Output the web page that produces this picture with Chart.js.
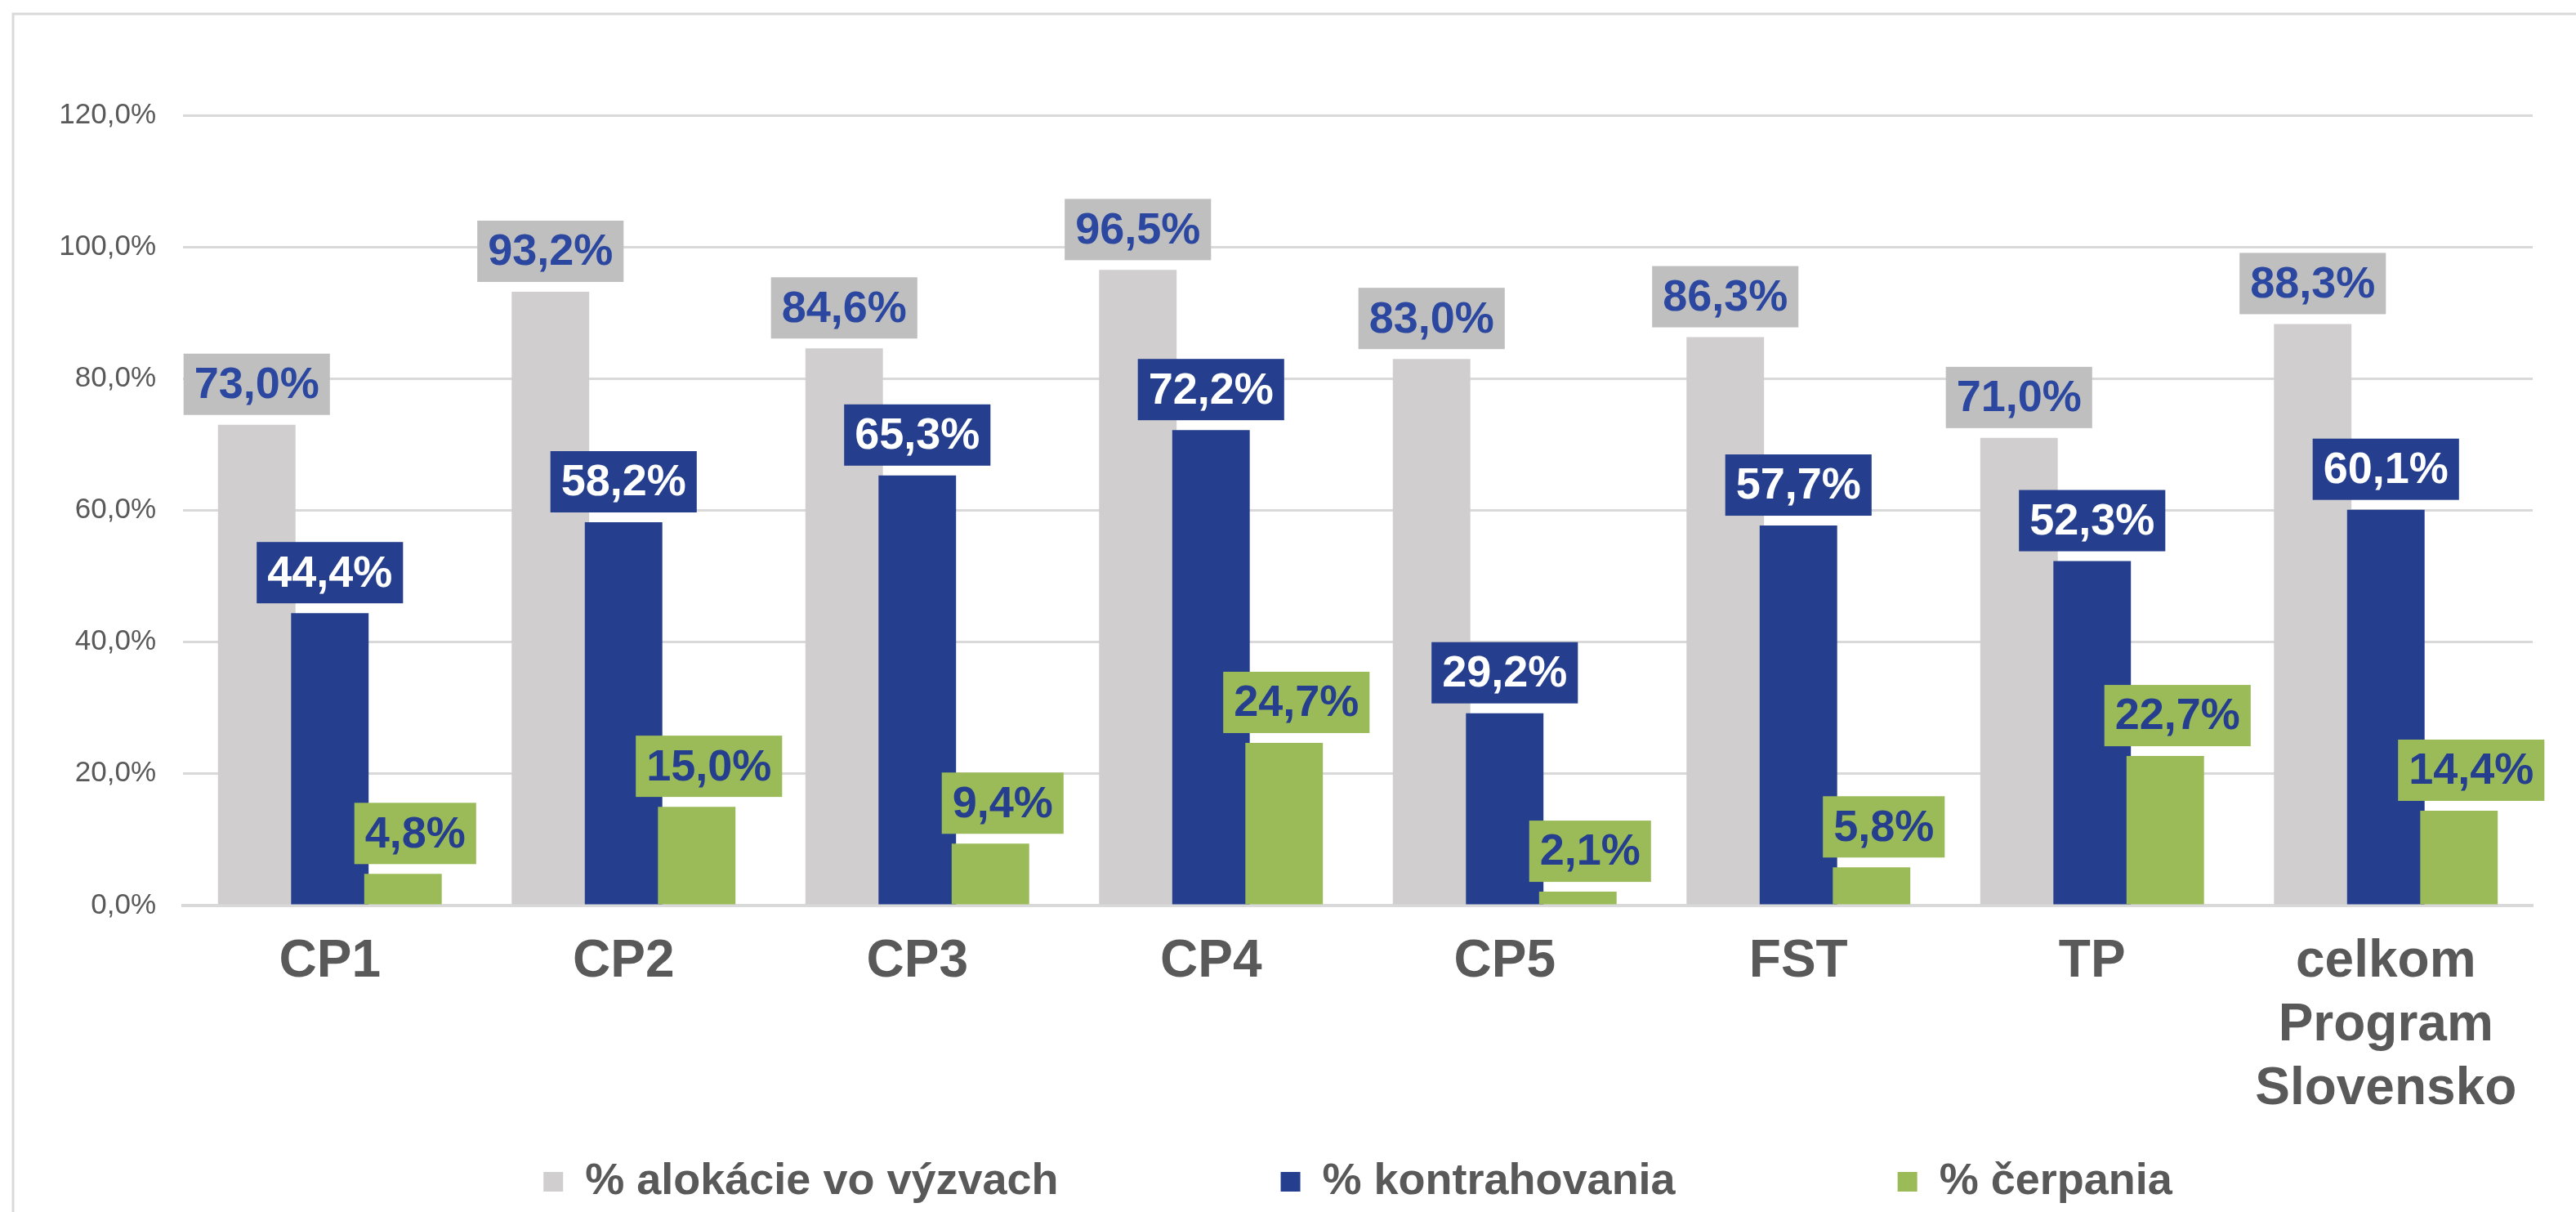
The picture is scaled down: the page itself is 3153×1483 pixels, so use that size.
<!DOCTYPE html>
<html>
<head>
<meta charset="utf-8">
<script src="https://cdn.jsdelivr.net/npm/chart.js@4/dist/chart.umd.min.js"></script>
<style>
    html, body { margin: 0; padding: 0; background: #fff; }
    .ltt_c-chart { position: relative; width: 3153px; height: 1483px; }
</style>
</head>
<body>
<div class="ltt_c-chart">
    <canvas id="canvas"></canvas>
</div>
<script>
'use strict';
var categories = ['CP1', 'CP2', 'CP3', 'CP4', 'CP5', 'FST', 'TP', ['celkom', 'Program', 'Slovensko']];
var seriesNames = ['% alokácie vo výzvach', '% kontrahovania', '% čerpania'];
var alokacie = [73.0, 93.2, 84.6, 96.5, 83.0, 86.3, 71.0, 88.3];
var kontrahovania = [44.4, 58.2, 65.3, 72.2, 29.2, 57.7, 52.3, 60.1];
var cerpanie = [4.8, 15.0, 9.4, 24.7, 2.1, 5.8, 22.7, 14.4];
var yTicks = [0, 20, 40, 60, 80, 100, 120];

var barColors = ['#d0cece', '#253f8e', '#9bbb59'];
var labelBg = ['#bfbfbf', '#253f8e', '#9bbb59'];
var labelFg = ['#2b47a0', '#ffffff', '#253f8e'];
var labelShift = [0, 0, 15];
var FONT = '"Liberation Sans", Arial, sans-serif';
var GREY_TEXT = '#595959';

function fmt(v) {
    return v.toFixed(1).replace('.', ',') + '%';
}

// frame round the chart, only top and left edge are visible
var framePlugin = {
    id: 'frame',
    beforeDraw: function(chart) {
        var ctx = chart.ctx;
        ctx.save();
        ctx.strokeStyle = '#d9d9d9';
        ctx.lineWidth = 3;
        ctx.beginPath();
        ctx.moveTo(16, chart.height);
        ctx.lineTo(16, 17);
        ctx.lineTo(chart.width, 17);
        ctx.stroke();
        ctx.restore();
    }
};

// first series at the back, last one on top
var drawOrderPlugin = {
    id: 'drawOrder',
    beforeDatasetsDraw: function(chart) {
        var metas = chart.getSortedVisibleDatasetMetas();
        for (var i = 0; i < metas.length; i++) {
            metas[i].controller.draw();
        }
        return false;
    }
};

var valueLabelPlugin = {
    id: 'valueLabels',
    afterDraw: function(chart) {
        var ctx = chart.ctx;
        ctx.save();
        ctx.font = 'bold 54px ' + FONT;
        ctx.textAlign = 'center';
        ctx.textBaseline = 'middle';
        chart.data.datasets.forEach(function(ds, i) {
            var meta = chart.getDatasetMeta(i);
            meta.data.forEach(function(bar, j) {
                var text = fmt(ds.data[j]);
                var w = ctx.measureText(text).width + 26;
                var h = 75;
                var cx = bar.x + labelShift[i];
                var bottom = bar.y - 12;
                ctx.fillStyle = labelBg[i];
                ctx.fillRect(cx - w / 2, bottom - h, w, h);
                ctx.fillStyle = labelFg[i];
                ctx.fillText(text, cx, bottom - h / 2 + 2);
            });
        });
        ctx.restore();
    }
};

var data = {
    labels: categories,
    datasets: [alokacie, kontrahovania, cerpanie].map(function(values, i) {
        return {
            label: seriesNames[i],
            data: values,
            backgroundColor: barColors[i],
            borderColor: barColors[i],
            borderWidth: 0,
            categoryPercentage: 0.747,
            barPercentage: 1.06
        };
    })
};

var ctx = document.getElementById('canvas').getContext('2d');
var chart = new Chart(ctx, {
    type: 'bar',
    data: data,
    plugins: [framePlugin, drawOrderPlugin, valueLabelPlugin],
    options: {
        responsive: true,
        maintainAspectRatio: false,
        animation: false,
        devicePixelRatio: 1,
        layout: { padding: { top: 141, left: 16, right: 53, bottom: 0 } },
        plugins: {
            tooltip: { enabled: false },
            legend: {
                position: 'bottom',
                fullSize: false,
                maxHeight: 344,
                labels: {
                    boxWidth: 24,
                    boxHeight: 24,
                    padding: 272,
                    color: GREY_TEXT,
                    font: { family: FONT, size: 54, weight: 'bold' }
                }
            }
        },
        scales: {
            x: {
                grid: { display: false, drawTicks: false },
                border: { display: true, color: '#d9d9d9', width: 4 },
                ticks: {
                    autoSkip: false,
                    maxRotation: 0,
                    minRotation: 0,
                    padding: 30,
                    color: GREY_TEXT,
                    font: { family: FONT, size: 64, weight: 'bold', lineHeight: 1.22 }
                },
                afterFit: function(scale) {
                    scale.height = 39;
                    // labels reach below the squeezed axis box, so no clipping
                    scale._computeLabelArea = function() {};
                }
            },
            y: {
                min: 0,
                max: 120,
                afterBuildTicks: function(scale) {
                    scale.ticks = yTicks.map(function(v) { return { value: v }; });
                },
                grid: { color: '#d9d9d9', lineWidth: 3, drawTicks: false },
                border: { display: false },
                ticks: {
                    padding: 33,
                    color: GREY_TEXT,
                    font: { family: FONT, size: 35 },
                    callback: function(v) { return fmt(v); }
                },
                afterFit: function(scale) { scale.width = 208; }
            }
        }
    }
});
</script>
</body>
</html>
